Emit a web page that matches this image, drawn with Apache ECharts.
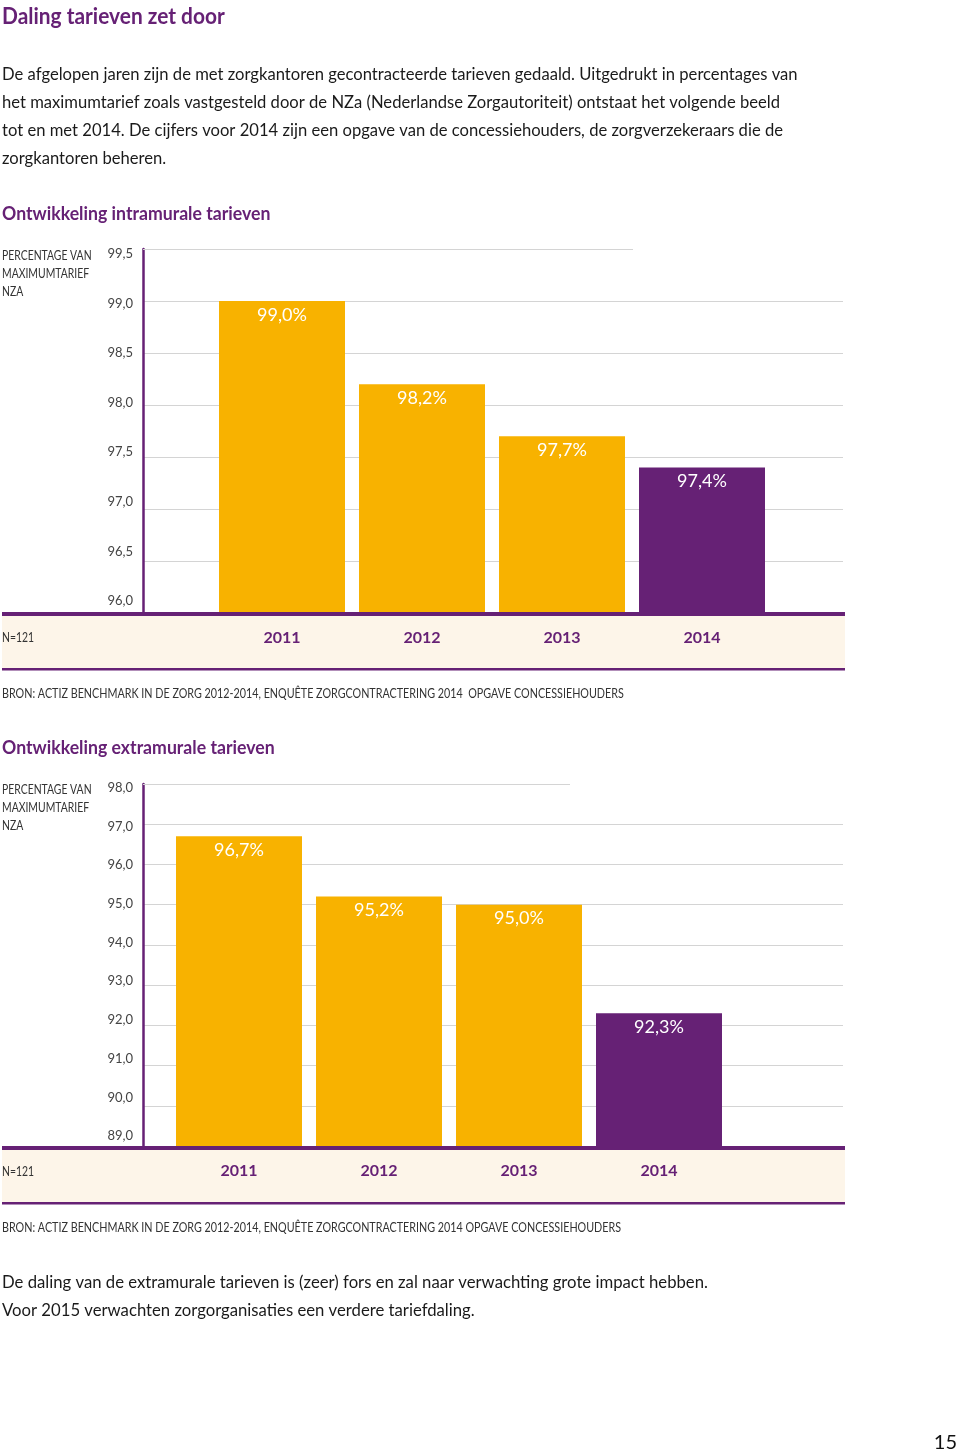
<!DOCTYPE html>
<html>
<head>
<meta charset="utf-8">
<script src="https://cdn.jsdelivr.net/npm/echarts@6/dist/echarts.min.js"></script>
<style>
html,body{margin:0;padding:0;background:#fff;}
#c{width:960px;height:1455px;}
</style>
</head>
<body>
<div id="c"></div>
<script>
// ---- data ----
const categories = ['2011', '2012', '2013', '2014'];
const intramuralValues = [99.0, 98.2, 97.7, 97.4];
const extramuralValues = [96.7, 95.2, 95.0, 92.3];
const intramuralAxis = { min: 96.0, max: 99.5, interval: 0.5 };
const extramuralAxis = { min: 89.0, max: 98.0, interval: 1.0 };
const highlightCategory = '2014';

const pageTitle = 'Daling tarieven zet door';
const introText = [
  'De afgelopen jaren zijn de met zorgkantoren gecontracteerde tarieven gedaald. Uitgedrukt in percentages van',
  'het maximumtarief zoals vastgesteld door de NZa (Nederlandse Zorgautoriteit) ontstaat het volgende beeld',
  'tot en met 2014. De cijfers voor 2014 zijn een opgave van de concessiehouders, de zorgverzekeraars die de',
  'zorgkantoren beheren.'
];
const chart1Title = 'Ontwikkeling intramurale tarieven';
const chart2Title = 'Ontwikkeling extramurale tarieven';
const yAxisTitle = ['PERCENTAGE VAN', 'MAXIMUMTARIEF', 'NZA'];
const nLabel = 'N=121';
const source1 = 'BRON: ACTIZ BENCHMARK IN DE ZORG 2012-2014, ENQUÊTE ZORGCONTRACTERING 2014  OPGAVE CONCESSIEHOUDERS';
const source2 = 'BRON: ACTIZ BENCHMARK IN DE ZORG 2012-2014, ENQUÊTE ZORGCONTRACTERING 2014 OPGAVE CONCESSIEHOUDERS';
const outroText = [
  'De daling van de extramurale tarieven is (zeer) fors en zal naar verwachting grote impact hebben.',
  'Voor 2015 verwachten zorgorganisaties een verdere tariefdaling.'
];
const pageNumber = '15';

// ---- styles ----
const PURPLE = '#662175';
const YELLOW = '#F8B200';
const CREAM = '#FDF5E9';
const GRID = '#d4d4d4';
const FONT = 'Lato';
const TEXT = '#1a1a1a';

const fmt1 = v => v.toFixed(1).replace('.', ',');

// tick labels in the original sit slightly compressed towards the middle of the axis
function frameAxes(gridIndex, ax, offBottom, offStep) {
  const n = Math.round((ax.max - ax.min) / ax.interval);
  const rich = {};
  for (let i = 0; i <= n; i++) {
    const o = offBottom + offStep * i; // + = down
    rich['s' + i] = {
      color: '#444', fontSize: 13, fontFamily: FONT,
      padding: o >= 0 ? [2 * o, 0, 0, 0] : [0, 0, -2 * o, 0]
    };
  }
  return {
    x: { gridIndex, type: 'value', min: 0, max: 1, show: false },
    y: {
      gridIndex, type: 'value', min: ax.min, max: ax.max, interval: ax.interval,
      axisLine: { show: true, lineStyle: { color: PURPLE, width: 2.5 } },
      axisTick: { show: false },
      axisLabel: {
        formatter: v => '{s' + Math.round((v - ax.min) / ax.interval) + '|' + fmt1(v) + '}',
        rich, margin: 10
      },
      splitLine: { show: true, showMaxLine: false, lineStyle: { color: GRID, width: 1 } }
    }
  };
}
function barAxes(gridIndex, ax) {
  return {
    x: {
      gridIndex, type: 'category', data: categories,
      axisLine: { show: false }, axisTick: { show: false },
      axisLabel: { color: PURPLE, fontWeight: 'bold', fontSize: 16, fontFamily: FONT, margin: 17 }
    },
    y: { gridIndex, type: 'value', min: ax.min, max: ax.max, show: false }
  };
}
function barSeries(axisIdx, values) {
  return {
    type: 'bar', xAxisIndex: axisIdx, yAxisIndex: axisIdx, barWidth: 126,
    data: values.map((v, i) => ({ value: v, itemStyle: { color: categories[i] === highlightCategory ? PURPLE : YELLOW } })),
    label: { show: true, position: 'insideTop', distance: 5, color: '#fff', fontSize: 18, fontFamily: FONT,
      formatter: p => fmt1(p.value) + '%' },
    silent: true, animation: false
  };
}
function topLineSeries(axisIdx, ax, frac) {
  return {
    type: 'line', xAxisIndex: axisIdx, yAxisIndex: axisIdx, data: [], silent: true,
    markLine: { symbol: 'none', silent: true, label: { show: false },
      lineStyle: { color: GRID, width: 1, type: 'solid' },
      data: [[{ coord: [0, ax.max] }, { coord: [frac, ax.max] }]] },
    animation: false
  };
}

const f1 = frameAxes(0, intramuralAxis, -12, 2.4), b1 = barAxes(1, intramuralAxis);
const f2 = frameAxes(2, extramuralAxis, -10, 1.55), b2 = barAxes(3, extramuralAxis);

function txt(x, y, text, font, fill, extra, sx) {
  return { type: 'text', x, y, z: 50, scaleX: sx || 1,
    style: Object.assign({ text, font, fill, verticalAlign: 'middle', align: 'left' }, extra || {}) };
}
function band(yBase) {
  return [
    { type: 'rect', z: -10, shape: { x: 2, y: yBase, width: 843, height: 54 }, style: { fill: CREAM } },
    { type: 'rect', z: 40, shape: { x: 2, y: yBase - 3, width: 843, height: 4 }, style: { fill: PURPLE } },
    { type: 'rect', z: 40, shape: { x: 2, y: yBase + 53, width: 843, height: 2.5 }, style: { fill: PURPLE } }
  ];
}

const graphics = [
  txt(2, 17, pageTitle, 'bold 22px ' + FONT, PURPLE, null, 0.95),
  txt(2, 75, introText.join('\n'), '17px ' + FONT, TEXT, { lineHeight: 28, verticalAlign: 'top', y: -14 }, 0.977),
  txt(2, 214, chart1Title, 'bold 19px ' + FONT, PURPLE, null, 0.93),
  txt(2, 256, yAxisTitle.join('\n'), '13px ' + FONT, '#333', { lineHeight: 18, verticalAlign: 'top', y: -9 }, 0.8),
  ...band(615),
  txt(2, 638, nLabel, '13px ' + FONT, '#333', null, 0.8),
  txt(2, 694, source1, '12.5px ' + FONT, '#333', null, 0.86),
  txt(2, 748, chart2Title, 'bold 19px ' + FONT, PURPLE, null, 0.93),
  txt(2, 790, yAxisTitle.join('\n'), '13px ' + FONT, '#333', { lineHeight: 18, verticalAlign: 'top', y: -9 }, 0.8),
  ...band(1149),
  txt(2, 1172, nLabel, '13px ' + FONT, '#333', null, 0.8),
  txt(2, 1228, source2, '12.5px ' + FONT, '#333', null, 0.86),
  txt(2, 1283, outroText.join('\n'), '17px ' + FONT, TEXT, { lineHeight: 28, verticalAlign: 'top', y: -14 }, 0.982),
  txt(957, 1443, pageNumber, '20px ' + FONT, '#111', { align: 'right' })
];

const chart = echarts.init(document.getElementById('c'), null, { renderer: 'canvas' });
chart.setOption({
  animation: false,
  backgroundColor: '#fff',
  textStyle: { fontFamily: FONT },
  grid: [
    { left: 143, top: 249, width: 700, height: 364 },
    { left: 212, top: 249, width: 560, height: 364 },
    { left: 143, top: 784, width: 700, height: 362 },
    { left: 169, top: 784, width: 560, height: 362 }
  ],
  xAxis: [f1.x, b1.x, f2.x, b2.x],
  yAxis: [f1.y, b1.y, f2.y, b2.y],
  series: [
    topLineSeries(0, intramuralAxis, 0.70),
    barSeries(1, intramuralValues),
    topLineSeries(2, extramuralAxis, 0.61),
    barSeries(3, extramuralValues)
  ],
  graphic: graphics
});
</script>
</body>
</html>
